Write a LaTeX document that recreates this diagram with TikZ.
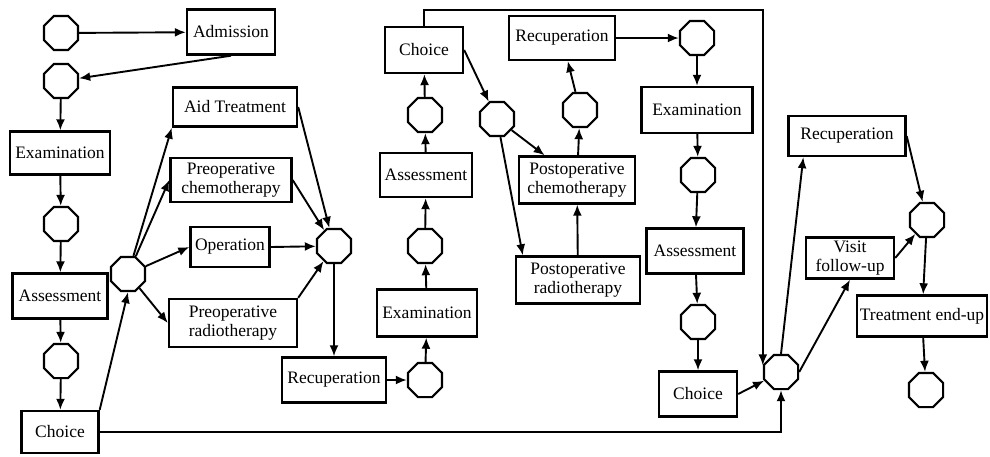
\documentclass[tikz,border=0pt]{standalone}
\usepackage{fontspec}
\setmainfont{Liberation Serif}
\usetikzlibrary{shapes.geometric,arrows.meta}
\tikzset{
  box/.style={draw, line width=2.4pt, inner sep=1pt, align=center,
    font=\fontsize{17.5}{19}\selectfont},
  st/.style={draw, line width=2.2pt, regular polygon, regular polygon sides=8,
    minimum size=37pt, inner sep=0pt},
  arr/.style={line width=1.9pt, -{Latex[length=11pt,width=9pt]}}
}

\begin{document}
\begin{tikzpicture}[x=1pt,y=-1pt]
  \useasboundingbox (0,0) rectangle (990,456);
  \node[st] (c1) at (61,33) {};
  \node[st] (c2) at (61,81) {};
  \node[st] (c3) at (61,224) {};
  \node[st] (c4) at (61,361) {};
  \node[st] (c5) at (128,274) {};
  \node[st] (c6) at (334,246) {};
  \node[st] (c7) at (425,380) {};
  \node[st] (c8) at (425,246) {};
  \node[st] (c9) at (425,115) {};
  \node[st] (c10) at (497,119) {};
  \node[st] (c11) at (580,110) {};
  \node[st] (c12) at (697,38) {};
  \node[st] (c13) at (698,175) {};
  \node[st] (c14) at (698,322) {};
  \node[st] (cr) at (781,372) {};
  \node[st] (c15) at (927,220) {};
  \node[st] (c16) at (926,390) {};

  \node[box, minimum width=88pt, minimum height=45pt] (adm) at (231,32) {Admission};
  \node[box, minimum width=100pt, minimum height=43pt] (exam1) at (60,153) {Examination};
  \node[box, minimum width=95pt, minimum height=45pt] (assess1) at (60,296) {Assessment};
  \node[box, minimum width=77pt, minimum height=42pt] (choice1) at (60,432) {Choice};
  \node[box, minimum width=124pt, minimum height=39pt] (aid) at (235,107) {Aid Treatment};
  \node[box, minimum width=121pt, minimum height=44pt] (prechemo) at (231,180) {Preoperative\\chemotherapy};
  \node[box, minimum width=79pt, minimum height=40pt] (oper) at (230,247) {Operation};
  \node[box, minimum width=128pt, minimum height=48pt] (prerad) at (233,323) {Preoperative\\radiotherapy};
  \node[box, minimum width=104pt, minimum height=45pt] (recup1) at (334,380) {Recuperation};
  \node[box, minimum width=100pt, minimum height=47pt] (exam2) at (427,313) {Examination};
  \node[box, minimum width=92pt, minimum height=44pt] (assess2) at (426,175) {Assessment};
  \node[box, minimum width=78pt, minimum height=46pt] (choice2) at (424,50) {Choice};
  \node[box, minimum width=116pt, minimum height=47pt] (postchemo) at (577,180) {Postoperative\\chemotherapy};
  \node[box, minimum width=124pt, minimum height=47pt] (postrad) at (578,280) {Postoperative\\radiotherapy};
  \node[box, minimum width=106pt, minimum height=44pt] (recup2) at (562,38) {Recuperation};
  \node[box, minimum width=111pt, minimum height=46pt] (exam3) at (697,110) {Examination};
  \node[box, minimum width=97pt, minimum height=45pt] (assess3) at (695,251) {Assessment};
  \node[box, minimum width=78pt, minimum height=45pt] (choice3) at (698,394) {Choice};
  \node[box, minimum width=117pt, minimum height=40pt] (recup3) at (847,136) {Recuperation};
  \node[box, minimum width=88pt, minimum height=41pt] (visit) at (850,258) {Visit\\follow-up};
  \node[box, minimum width=130pt, minimum height=41pt] (tend) at (922,316) {Treatment end-up};

  \draw[arr] (c1) -- (adm);
  \draw[arr] (adm.south) -- (c2);
  \draw[arr] (c2) -- (exam1);
  \draw[arr] (exam1) -- (c3);
  \draw[arr] (c3) -- (assess1);
  \draw[arr] (assess1) -- (c4);
  \draw[arr] (c4) -- (choice1);
  \draw[arr] (choice1.north east) -- (c5.south);
  \draw[arr] (c5) -- (aid.south west);
  \draw[arr] (c5) -- (prechemo.west);
  \draw[arr] (c5) -- (oper.west);
  \draw[arr] (c5) -- (prerad.west);
  \draw[arr] (aid.east) -- (c6);
  \draw[arr] (prechemo.east) -- (c6);
  \draw[arr] (oper.east) -- (c6);
  \draw[arr] (prerad.north east) -- (c6);
  \draw[arr] (c6) -- (recup1);
  \draw[arr] (recup1.east) -- (c7);
  \draw[arr] (c7) -- (exam2);
  \draw[arr] (exam2) -- (c8);
  \draw[arr] (c8) -- (assess2);
  \draw[arr] (assess2) -- (c9);
  \draw[arr] (c9) -- (choice2);
  \draw[arr] (choice2.east) -- (c10);
  \draw[arr] (c10) -- (postchemo);
  \draw[arr] (c10) -- ([xshift=8pt]postrad.north west);
  \draw[arr] (postrad) -- (postchemo);
  \draw[arr] (postchemo) -- (c11);
  \draw[arr] (c11) -- (recup2);
  \draw[arr] (recup2) -- (c12);
  \draw[arr] (c12) -- (exam3);
  \draw[arr] (exam3) -- (c13);
  \draw[arr] (c13) -- (assess3);
  \draw[arr] (assess3) -- (c14);
  \draw[arr] (c14) -- (choice3);
  \draw[arr] (choice3.east) -- (cr);
  \draw[arr] (choice2.north) |- (cr.160 |- 0,10) -- (cr.160);
  \draw[arr] (choice1.east) -| (cr.south);
  \draw[arr] (cr.north) -- ([xshift=16pt]recup3.south west);
  \draw[arr] (cr.east) -- (visit.south);
  \draw[arr] (recup3.east) -- (c15);
  \draw[arr] (visit.east) -- (c15);
  \draw[arr] (c15) -- (tend);
  \draw[arr] (tend) -- (c16);
\end{tikzpicture}
\end{document}
